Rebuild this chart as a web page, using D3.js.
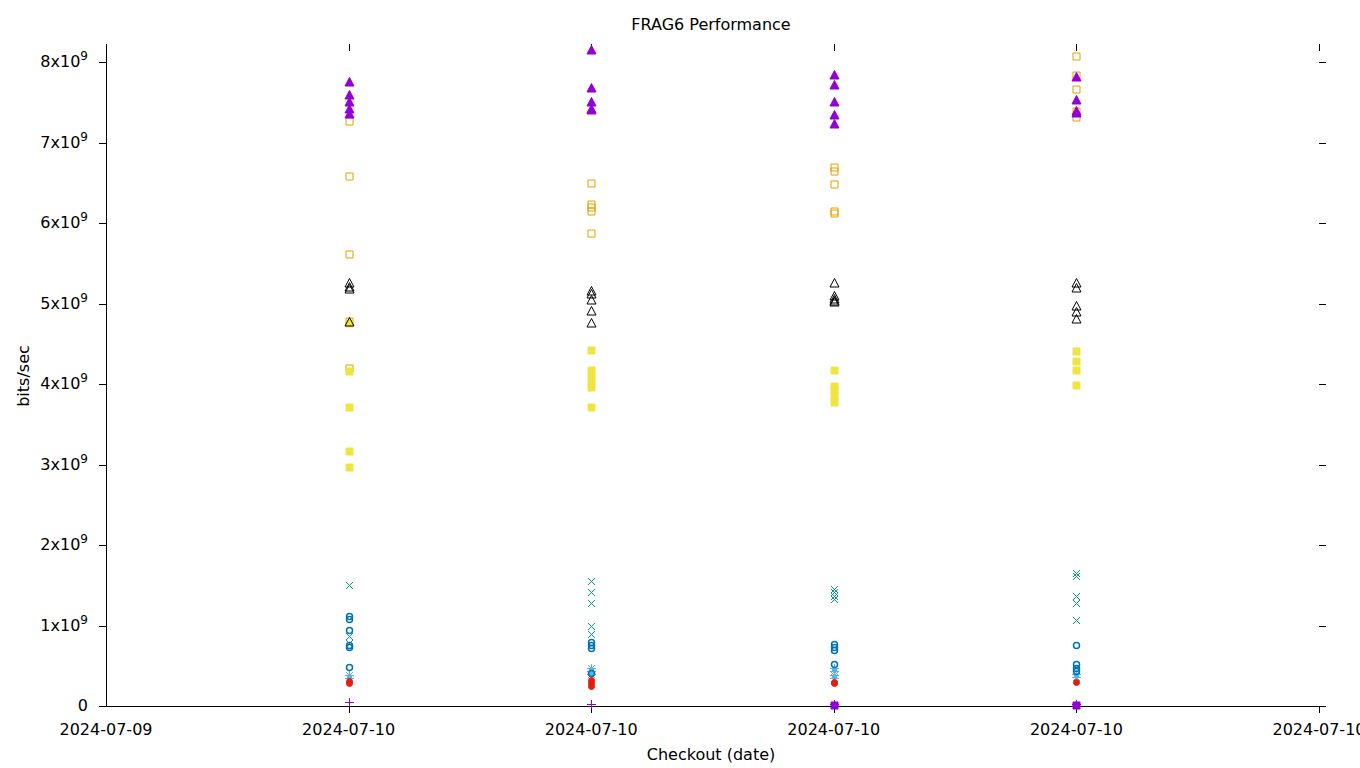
<!DOCTYPE html>
<html>
<head>
<meta charset="utf-8">
<script src="https://cdn.jsdelivr.net/npm/d3@7"></script>
<style>
body { margin: 0; background: #fff; }
text { font-family: "DejaVu Sans", sans-serif; font-size: 16px; fill: #000; }
</style>
</head>
<body>
<div id="container"></div>
<script>

// tick labels on the x axis, one per slot (slot 0 and 5 are empty)
var xTickLabels = ["2024-07-09", "2024-07-10", "2024-07-10", "2024-07-10", "2024-07-10", "2024-07-10"];
var yTicks = [0, 1, 2, 3, 4, 5, 6, 7, 8];   // in units of 10^9

// values per checkout column (slots 1..4), in 10^9 bits/sec
var plusPurple = [[0.05], [0.02], [0.02], [0.02]];
var crossGreen = [[1.50, 0.87, 0.78], [1.55, 1.42, 1.28, 1.00, 0.89], [1.45, 1.41, 1.37, 1.33], [1.65, 1.61, 1.37, 1.28, 1.07]];
var starBlue = [[0.38, 0.35], [0.47, 0.44, 0.40], [0.47, 0.43, 0.39, 0.35], [0.40, 0.36]];
var boxOrange = [[7.27, 6.59, 5.61, 4.78, 4.20], [6.50, 6.24, 6.20, 6.15, 5.87], [6.69, 6.64, 6.48, 6.15, 6.12], [8.07, 7.84, 7.66, 7.39, 7.32]];
var fboxYellow = [[4.76, 4.16, 3.71, 3.17, 2.97], [4.42, 4.17, 4.10, 4.03, 3.96, 3.71], [4.18, 3.98, 3.92, 3.85, 3.78], [4.41, 4.29, 4.18, 3.99]];
var circleBlue = [[1.12, 1.08, 0.95, 0.76, 0.73, 0.49], [0.80, 0.76, 0.72, 0.41], [0.77, 0.73, 0.69, 0.52], [0.76, 0.52, 0.47, 0.43]];
var fcircleRed = [[0.31, 0.28], [0.32, 0.28, 0.25], [0.30, 0.28], [0.30]];
var triBlack = [[5.25, 5.21, 5.18, 4.77], [5.15, 5.12, 5.04, 4.91, 4.76], [5.26, 5.09, 5.06, 5.03, 5.02], [5.26, 5.19, 4.97, 4.89, 4.81]];
var ftriPurple = [[7.75, 7.59, 7.50, 7.41, 7.35], [8.15, 7.68, 7.50, 7.42, 7.40], [7.84, 7.72, 7.50, 7.34, 7.23], [7.81, 7.53, 7.39, 7.37]];
var fboxPurple = [[], [], [0.01], [0.01]];


var series = [
	{vals: plusPurple, shape: "plus", color: "#9400d3"},
	{vals: crossGreen, shape: "cross", color: "#009e73"},
	{vals: starBlue, shape: "star", color: "#56b4e9"},
	{vals: boxOrange, shape: "box", color: "#e69f00"},
	{vals: fboxYellow, shape: "fbox", color: "#f0e442"},
	{vals: circleBlue, shape: "circle", color: "#0072b2"},
	{vals: fcircleRed, shape: "fcircle", color: "#e51e10"},
	{vals: triBlack, shape: "tri", color: "#000000"},
	{vals: ftriPurple, shape: "ftri", color: "#9400d3"},
	{vals: fboxPurple, shape: "fbox", color: "#9400d3"}
];


function markerPath(shape) {
	var p = d3.path();
	if (shape == "plus" || shape == "star") {
		p.moveTo(-4.5, 0); p.lineTo(4.5, 0);
		p.moveTo(0, -4.5); p.lineTo(0, 4.5);
	}
	if (shape == "cross" || shape == "star") {
		p.moveTo(-3.5, -3.5); p.lineTo(3.5, 3.5);
		p.moveTo(-3.5, 3.5); p.lineTo(3.5, -3.5);
	}
	if (shape == "box" || shape == "fbox") {
		p.rect(-3.5, -3.5, 7, 7);
	}
	if (shape == "circle" || shape == "fcircle") {
		p.moveTo(3, 0); p.arc(0, 0, 3, 0, 2 * Math.PI);
	}
	if (shape == "tri" || shape == "ftri") {
		p.moveTo(0, -5); p.lineTo(4.5, 3.5); p.lineTo(-4.5, 3.5); p.closePath();
	}
	return p.toString();
};


function drawit() {
	var W = 1360, H = 768;
	var left = 106, right = 1326, top = 44, bottom = 706;

	var svg = d3.select("#container").append("svg")
		.attr("width", W).attr("height", H);

	var x = d3.scaleLinear().domain([0, 5]).range([106, 1319]);
	var y = d3.scaleLinear().domain([0, 8]).range([706, 62]);

	// title and axis labels
	svg.append("text").attr("x", 711).attr("y", 30).attr("text-anchor", "middle").text("FRAG6 Performance");
	svg.append("text").attr("x", 711).attr("y", 760).attr("text-anchor", "middle").text("Checkout (date)");
	svg.append("text").attr("transform", "translate(29,376) rotate(-90)").attr("text-anchor", "middle").text("bits/sec");

	// border (left + bottom only)
	svg.append("line").attr("x1", left + 0.5).attr("x2", left + 0.5).attr("y1", top).attr("y2", bottom + 0.5)
		.attr("stroke", "#000");
	svg.append("line").attr("x1", left).attr("x2", right).attr("y1", bottom + 0.5).attr("y2", bottom + 0.5)
		.attr("stroke", "#000");

	// y ticks: outward on the left, mirrored inward on the right
	yTicks.forEach(function(t) {
		var yy = Math.round(y(t)) + 0.5;
		svg.append("line").attr("x1", left - 7).attr("x2", left).attr("y1", yy).attr("y2", yy).attr("stroke", "#000");
		if (t > 0) {
			svg.append("line").attr("x1", right - 7).attr("x2", right).attr("y1", yy).attr("y2", yy).attr("stroke", "#000");
		}
		var lab = svg.append("text").attr("x", 88).attr("y", Math.round(y(t)) + 5).attr("text-anchor", "end");
		if (t == 0) {
			lab.text("0");
		} else {
			lab.append("tspan").text(t + "x10");
			lab.append("tspan").attr("dy", -7).attr("font-size", "12px").text("9");
		}
	});

	// x ticks: outward at the bottom, mirrored inward at the top
	xTickLabels.forEach(function(l, i) {
		var xx = Math.round(x(i)) + 0.5;
		if (i > 0) {
			svg.append("line").attr("x1", xx).attr("x2", xx).attr("y1", bottom).attr("y2", bottom + 7).attr("stroke", "#000");
			svg.append("line").attr("x1", xx).attr("x2", xx).attr("y1", top).attr("y2", top + 7).attr("stroke", "#000");
		}
		svg.append("text").attr("x", x(i)).attr("y", 735).attr("text-anchor", "middle").text(l);
	});

	// points
	series.forEach(function(s) {
		var pts = [];
		s.vals.forEach(function(col, ci) {
			col.forEach(function(v) { pts.push({slot: ci + 1, v: v}); });
		});
		var filled = (s.shape == "fbox" || s.shape == "fcircle" || s.shape == "ftri");
		svg.selectAll(null)
			.data(pts)
			.enter()
			.append("path")
			.attr("transform", function(d) { return "translate(" + (Math.round(x(d.slot)) + 0.5) + "," + (Math.round(y(d.v)) + 0.5) + ")"; })
			.attr("d", markerPath(s.shape))
			.attr("fill", filled ? s.color : "none")
			.attr("stroke", s.color)
			.attr("stroke-width", (s.shape == "circle") ? 1.5 : 1);
	});
};


drawit()

</script>
</body>
</html>
